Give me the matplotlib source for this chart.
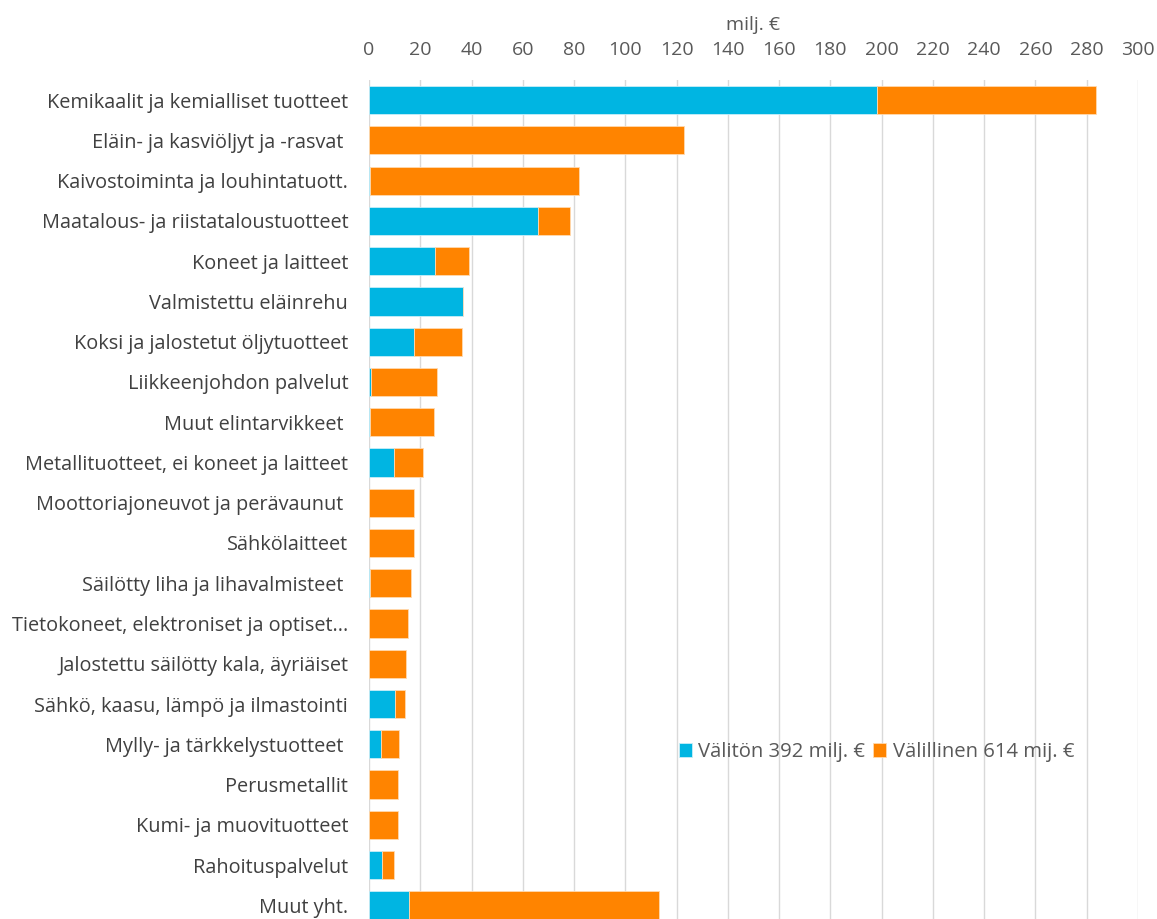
import matplotlib.pyplot as plt
import numpy as np

# Categories (top to bottom)
categories = [
    "Kemikaalit ja kemialliset tuotteet",
    "Eläin- ja kasviöljyt ja -rasvat ",
    "Kaivostoiminta ja louhintatuott.",
    "Maatalous- ja riistataloustuotteet",
    "Koneet ja laitteet",
    "Valmistettu eläinrehu",
    "Koksi ja jalostetut öljytuotteet",
    "Liikkeenjohdon palvelut",
    "Muut elintarvikkeet ",
    "Metallituotteet, ei koneet ja laitteet",
    "Moottoriajoneuvot ja perävaunut ",
    "Sähkölaitteet",
    "Säilötty liha ja lihavalmisteet ",
    "Tietokoneet, elektroniset ja optiset...",
    "Jalostettu säilötty kala, äyriäiset",
    "Sähkö, kaasu, lämpö ja ilmastointi",
    "Mylly- ja tärkkelystuotteet ",
    "Perusmetallit",
    "Kumi- ja muovituotteet",
    "Rahoituspalvelut",
    "Muut yht.",
]

# Direct effect (milj. €)
valiton = [198.0, 0.0, 0.4, 65.9, 25.7, 36.5, 17.5, 0.7, 0.3, 9.9, 0.0,
           0.0, 0.4, 0.0, 0.0, 10.1, 4.8, 0.0, 0.0, 5.1, 15.6]
# Indirect effect (milj. €)
valillinen = [85.7, 123.0, 81.6, 12.4, 13.5, 0.3, 18.9, 25.7, 24.9, 11.0, 17.5,
              17.5, 15.9, 15.2, 14.6, 4.1, 7.0, 11.2, 11.2, 4.7, 97.4]

legend_labels = ["Välitön 392 milj. €", "Välillinen 614 mij. €"]
xticks = list(range(0, 301, 20))

blue = "#00B5E2"
orange = "#FF8400"
text_col = "#595959"

plt.rcParams['font.family'] = ['Open Sans', 'DejaVu Sans']

fig = plt.figure(figsize=(11.57, 9.19), dpi=100)
ax = fig.add_axes([369 / 1157, 0, 769 / 1157, 1 - 80 / 919])

y = np.arange(len(categories))
b1 = ax.barh(y, valiton, height=0.7, color=blue, edgecolor="#c8eef8", linewidth=0.6,
             label=legend_labels[0], zorder=3)
b2 = ax.barh(y, valillinen, left=valiton, height=0.7, color=orange, edgecolor="#ffd9b0",
             linewidth=0.6, label=legend_labels[1], zorder=3)

ax.set_xlim(0, 300)
ax.set_ylim(20.34, -0.5)
ax.set_yticks(y)
ax.set_yticklabels(categories, fontsize=14.3, color="#404040")
ax.set_xticks(xticks)
ax.tick_params(axis='x', labelsize=14, labelcolor=text_col, length=0, pad=15)
ax.tick_params(axis='y', length=0, pad=15)
ax.xaxis.tick_top()
ax.xaxis.set_label_position('top')
ax.set_xlabel("milj. €", fontsize=14, color=text_col, labelpad=8)

ax.grid(axis='x', color="#d9d9d9", linewidth=1, zorder=0)
for s in ax.spines.values():
    s.set_visible(False)

ax.legend(handles=[b1, b2], loc='center', bbox_to_anchor=(876.5 / 1157, 1 - 752 / 919),
          bbox_transform=fig.transFigure, ncol=2, frameon=False, fontsize=14.6,
          handlelength=0.65, handleheight=0.65, handletextpad=0.3, columnspacing=0.4,
          labelcolor=text_col)

fig.savefig("out.png", dpi=100)
